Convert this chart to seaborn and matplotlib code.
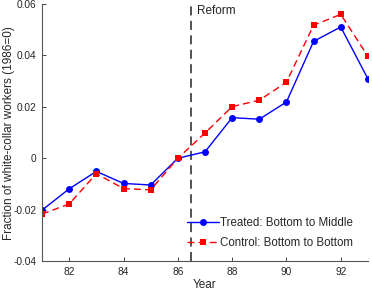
import pandas as pd
import seaborn as sns
import matplotlib.pyplot as plt

# values
years = [81, 82, 83, 84, 85, 86, 87, 88, 89, 90, 91, 92, 93]
treated = [-0.0202, -0.0119, -0.0051, -0.0098, -0.0104, 0.0, 0.0025,
           0.0158, 0.0152, 0.0219, 0.0455, 0.0511, 0.0309]
control = [-0.0217, -0.0178, -0.0060, -0.0118, -0.0123, 0.0, 0.0098,
           0.0201, 0.0226, 0.0296, 0.0518, 0.0560, 0.0397]
reform_year = 86.5

df = pd.DataFrame({'Year': years, 'Treated': treated, 'Control': control})

sns.set_style('ticks')
plt.rcParams['font.family'] = ['Liberation Sans', 'DejaVu Sans']

fig = plt.figure(figsize=(3.72, 2.92), dpi=100)
ax = fig.add_axes([0.113, 0.106, 0.876, 0.88])

sns.lineplot(data=df, x='Year', y='Treated', ax=ax, color='#0000ff', lw=1.0,
             marker='o', markersize=5, markeredgewidth=0,
             label='Treated: Bottom to Middle')
sns.lineplot(data=df, x='Year', y='Control', ax=ax, color='#ff0000', lw=1.0,
             linestyle=(0, (5, 3)), marker='s', markersize=5, markeredgewidth=0,
             label='Control: Bottom to Bottom')

ax.axvline(reform_year, color='#444444', lw=1.3, linestyle=(0, (5, 3)), zorder=0)
ax.text(reform_year + 0.2, 0.0597, 'Reform', fontsize=8.5, va='top', ha='left',
        color='#222222')

ax.set_xlim(81, 93)
ax.set_ylim(-0.04, 0.06)
ax.set_xticks([82, 84, 86, 88, 90, 92])
ax.set_yticks([-0.04, -0.02, 0, 0.02, 0.04, 0.06])
ax.set_yticklabels(['-0.04', '-0.02', '0', '0.02', '0.04', '0.06'])
ax.tick_params(direction='in', length=3, width=0.6, labelsize=7.3,
               colors='#262626', pad=4)
for s in ['top', 'right']:
    ax.spines[s].set_visible(False)
for s in ['left', 'bottom']:
    ax.spines[s].set_color('#555555')
    ax.spines[s].set_linewidth(0.8)

ax.set_xlabel('Year', fontsize=8.5, color='#262626', labelpad=2)
ax.set_ylabel('Fraction of white-collar workers (1986=0)', fontsize=8.5,
              color='#262626')
ax.yaxis.set_label_coords(-0.084, 0.5)

ax.legend(loc='lower right', bbox_to_anchor=(0.977, 0.02), frameon=False,
          fontsize=8.3, handlelength=2.8, handletextpad=0.1, borderaxespad=0.2,
          labelspacing=0.65)

fig.savefig('out.png', dpi=100)
